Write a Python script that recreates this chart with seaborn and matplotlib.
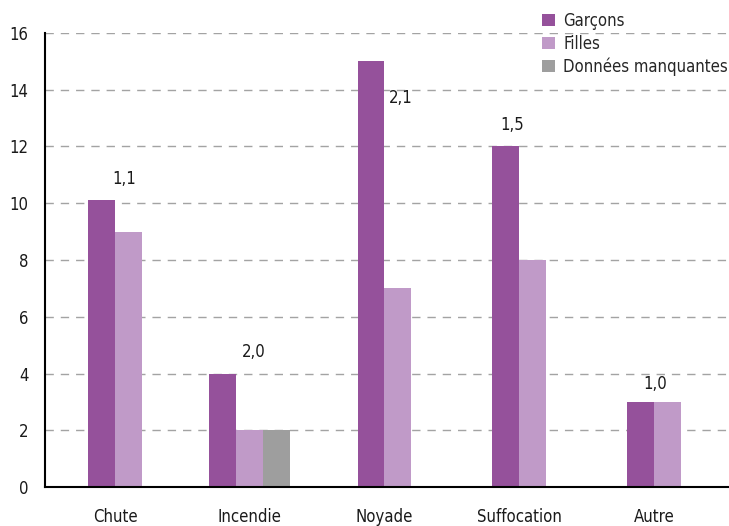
import pandas as pd
import matplotlib
matplotlib.use('Agg')
import matplotlib.pyplot as plt
import seaborn as sns

# données
causes = ["Chute", "Incendie", "Noyade", "Suffocation", "Autre"]
garcons = [10.1, 4.0, 15.0, 12.0, 3.0]
filles = [9.0, 2.0, 7.0, 8.0, 3.0]
manquantes = [None, 2.0, None, None, None]
ratios = ["1,1", "2,0", "2,1", "1,5", "1,0"]
series = ["Garçons", "Filles", "Données manquantes"]
couleurs = ["#95519B", "#C09AC8", "#9E9E9E"]

# position du texte des ratios (décalage x, hauteur y)
ratio_pos = [(0.07, 10.85), (0.03, 4.75), (0.12, 13.7), (-0.05, 12.75), (0.01, 3.63)]

largeur = 0.2
rows = []
for i, cause in enumerate(causes):
    vals = [garcons[i], filles[i], manquantes[i]]
    presents = [(s, v) for s, v in zip(series, vals) if v is not None]
    n = len(presents)
    for k, (s, v) in enumerate(presents):
        rows.append({"cause": cause, "serie": s, "valeur": v,
                     "pos": i + (k - (n - 1) / 2) * largeur})
df = pd.DataFrame(rows)

sns.set_style("white")
plt.rcParams['font.family'] = ['DejaVu Sans']
plt.rcParams['font.stretch'] = 'condensed'

fig = plt.figure(figsize=(7.29, 5.26), dpi=100)
ax = fig.add_axes([0.0617, 0.0741, 0.9383, 0.8632])

sns.barplot(data=df, x="pos", y="valeur", hue="serie", hue_order=series,
            palette=couleurs, native_scale=True, dodge=False, width=1.0,
            saturation=1, edgecolor="none", linewidth=0, ax=ax, zorder=3)

ax.set_xlim(-0.52, 4.557)
ax.set_ylim(0, 16)
ax.set_xticks(range(len(causes)))
ax.set_xticklabels(causes)
ax.set_yticks(range(0, 17, 2))
ax.set_xlabel("")
ax.set_ylabel("")
ax.tick_params(axis='both', length=0, labelsize=12, colors="#1a1a1a")
ax.tick_params(axis='y', pad=12)
ax.tick_params(axis='x', pad=15)

ax.yaxis.grid(True, color="#A3A3A3", linestyle=(0, (6, 5)), linewidth=1.0, zorder=1)
ax.set_axisbelow(True)
for side in ["top", "right"]:
    ax.spines[side].set_visible(False)
for side in ["left", "bottom"]:
    ax.spines[side].set_color("black")
    ax.spines[side].set_linewidth(1.5)
    ax.spines[side].set_zorder(4)

for i, r in enumerate(ratios):
    dx, y = ratio_pos[i]
    ax.text(i + dx, y, r, ha="center", va="center", fontsize=12, color="#1a1a1a")

handles, labels = ax.get_legend_handles_labels()
ax.legend(handles, labels, loc="upper left", bbox_to_anchor=(0.744, 0.978),
          bbox_transform=fig.transFigure, frameon=False, fontsize=12,
          handlelength=0.75, handleheight=0.75, handletextpad=0.5,
          labelspacing=0.3, borderaxespad=0, borderpad=0)

fig.savefig("out.png", dpi=100)
